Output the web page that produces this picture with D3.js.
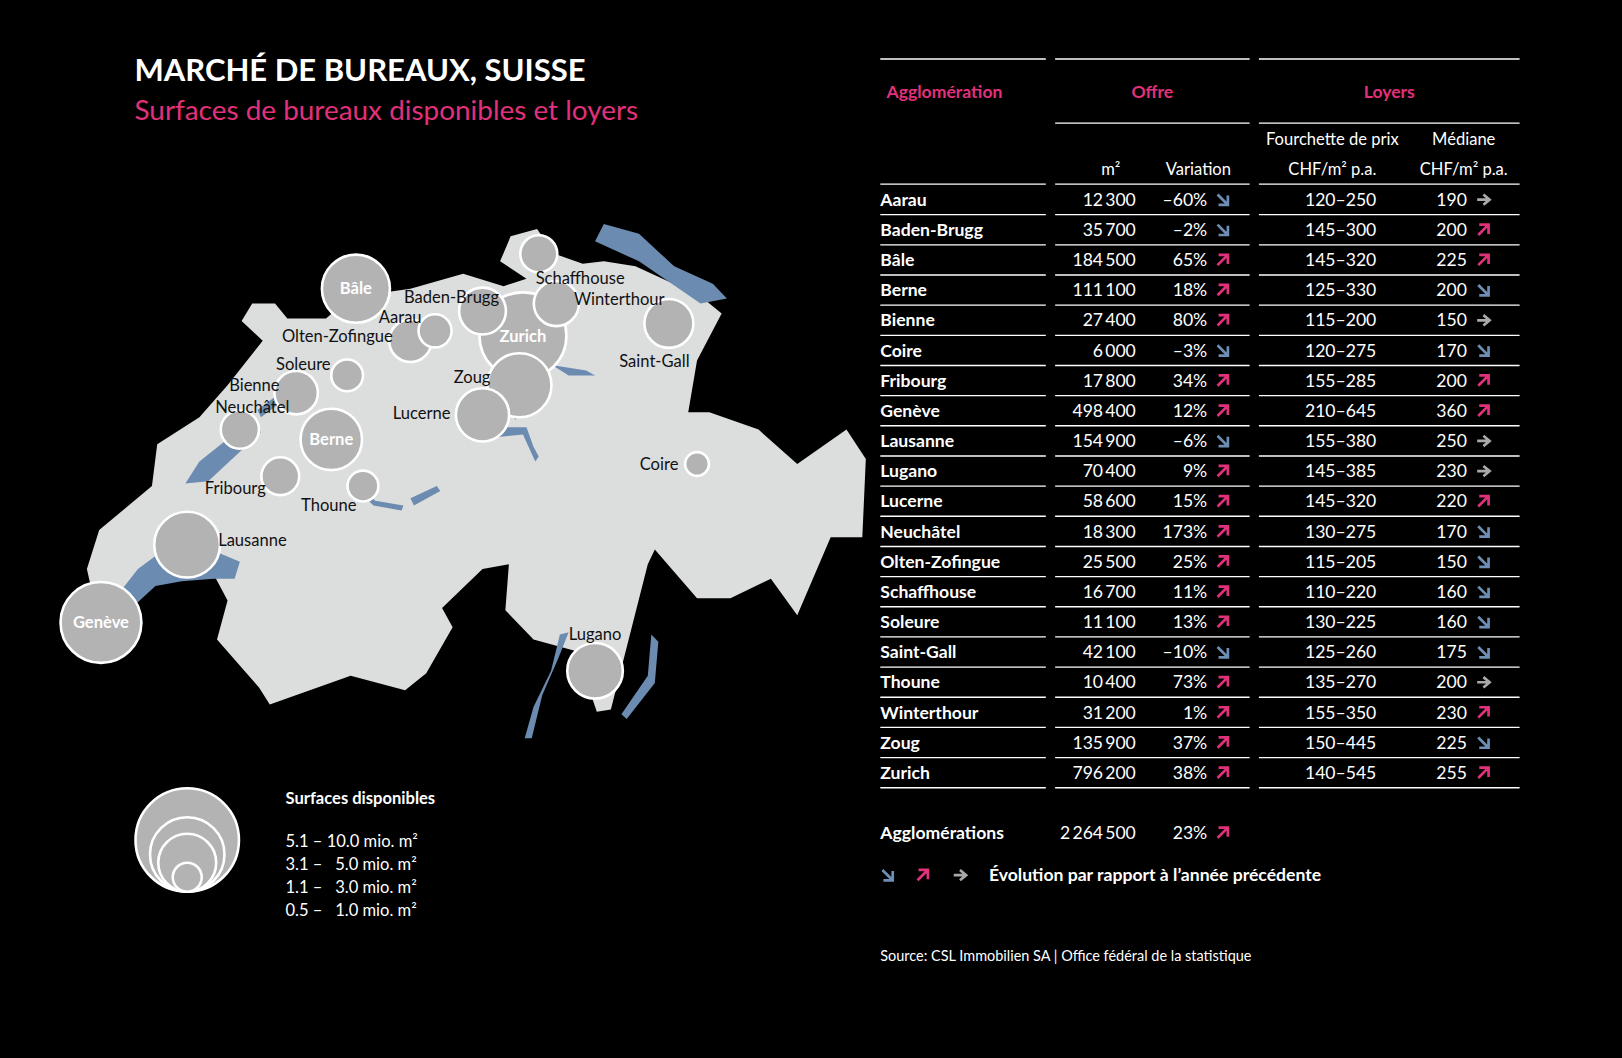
<!DOCTYPE html>
<html><head><meta charset="utf-8">
<script src="https://cdn.jsdelivr.net/npm/d3@7/dist/d3.min.js"></script>
<style>body{margin:0;background:#000}svg{display:block}text{font-family:Lato,"Open Sans",sans-serif}</style>
</head><body><svg id="c" width="1622" height="1058"></svg>
<script>
// ---------- DATA ----------
const cities = ["Aarau","Baden-Brugg","Bâle","Berne","Bienne","Coire","Fribourg","Genève","Lausanne","Lugano","Lucerne","Neuchâtel","Olten-Zofingue","Schaffhouse","Soleure","Saint-Gall","Thoune","Winterthour","Zoug","Zurich"];
const offre = [12300,35700,184500,111100,27400,6000,17800,498400,154900,70400,58600,18300,25500,16700,11100,42100,10400,31200,135900,796200];
const variation = [-60,-2,65,18,80,-3,34,12,-6,9,15,173,25,11,13,-10,73,1,37,38];
const rangeLow = [120,145,145,125,115,120,155,210,155,145,145,130,115,110,130,125,135,155,150,140];
const rangeHigh = [250,300,320,330,200,275,285,645,380,385,320,275,205,220,225,260,270,350,445,545];
const median = [190,200,225,200,150,170,200,360,250,230,220,170,150,160,160,175,200,230,225,255];
const medianTrend = ["flat","up","up","down","flat","down","up","up","flat","flat","up","down","down","down","down","down","flat","up","down","up"];
const totalOffre = 2264500, totalVar = 23;
const lon = [8.04,8.31,7.59,7.45,7.25,9.53,7.16,6.14,6.63,8.95,8.31,6.93,7.90,8.63,7.54,9.37,7.63,8.73,8.52,8.54];
const lat = [47.39,47.47,47.56,46.95,47.14,46.85,46.80,46.20,46.52,46.00,47.05,46.99,47.35,47.70,47.21,47.42,46.76,47.50,47.17,47.37];
const legendItems = ["5.1 – 10.0 mio. m²","3.1 –   5.0 mio. m²","1.1 –   3.0 mio. m²","0.5 –   1.0 mio. m²"];
// map geometry (lon/lat)
const border = [[5.96,46.14],[5.97,46.21],[6.11,46.26],[6.06,46.42],[6.13,46.58],[6.43,46.76],[6.46,46.93],[6.70,47.04],[6.86,47.17],[7.06,47.35],[6.94,47.43],[7.00,47.50],[7.13,47.50],[7.20,47.44],[7.42,47.44],[7.52,47.50],[7.59,47.58],[7.70,47.54],[7.90,47.56],[8.20,47.62],[8.43,47.57],[8.56,47.60],[8.41,47.67],[8.47,47.77],[8.62,47.80],[8.72,47.70],[8.88,47.66],[9.00,47.67],[9.18,47.65],[9.55,47.53],[9.67,47.46],[9.53,47.27],[9.48,47.06],[9.60,47.06],[9.88,46.99],[10.10,46.85],[10.38,46.99],[10.49,46.87],[10.47,46.55],[10.29,46.55],[10.10,46.23],[9.95,46.38],[9.72,46.30],[9.53,46.30],[9.29,46.50],[9.25,46.44],[9.04,45.84],[8.96,45.83],[8.90,45.96],[8.79,45.99],[8.85,46.08],[8.60,46.13],[8.44,46.25],[8.46,46.44],[8.31,46.42],[8.08,46.26],[8.14,46.18],[7.99,45.99],[7.87,45.92],[7.56,45.98],[7.10,45.86],[7.04,45.93],[6.80,46.13],[6.86,46.29],[6.78,46.40],[6.52,46.45],[6.24,46.31],[6.31,46.25],[6.10,46.14],[5.96,46.14]];
const lakes = [
 [[6.15,46.21],[6.22,46.30],[6.35,46.42],[6.50,46.50],[6.70,46.52],[6.93,46.45],[6.90,46.38],[6.78,46.38],[6.60,46.37],[6.45,46.35],[6.30,46.25],[6.18,46.20]],
 [[6.62,46.77],[6.75,46.78],[7.05,46.98],[6.98,47.02],[6.70,46.86]],
 [[7.05,47.04],[7.22,47.13],[7.18,47.15],[7.03,47.07]],
 [[8.95,47.75],[9.20,47.67],[9.55,47.50],[9.70,47.52],[9.62,47.58],[9.40,47.65],[9.20,47.78],[9.00,47.82]],
 [[8.54,47.36],[8.60,47.30],[8.80,47.21],[8.95,47.21],[8.90,47.23],[8.72,47.25],[8.57,47.34]],
 [[8.48,47.17],[8.52,47.15],[8.50,47.03],[8.47,47.05]],
 [[8.31,47.05],[8.42,47.00],[8.56,47.00],[8.60,46.92],[8.63,46.88],[8.61,46.86],[8.54,46.97],[8.40,46.96],[8.30,47.02]],
 [[7.63,46.75],[7.70,46.70],[7.86,46.68],[7.85,46.66],[7.69,46.68],[7.62,46.73]],
 [[7.90,46.71],[8.05,46.76],[8.07,46.74],[7.92,46.68]],
 [[8.75,46.15],[8.70,46.00],[8.60,45.85],[8.55,45.72],[8.59,45.72],[8.65,45.90],[8.74,46.05],[8.80,46.16]],
 [[8.85,46.00],[8.97,46.00],[9.10,46.03],[9.06,45.97],[8.93,45.96],[8.84,45.93]],
 [[9.27,46.15],[9.25,45.98],[9.10,45.82],[9.13,45.80],[9.29,45.95],[9.31,46.12]]
];
// label placement (style)
const labelStyle = {"Bâle":[0,0,"middle",1],"Zurich":[0,0,"middle",1],"Berne":[0,0,"middle",1],"Genève":[0,0,"middle",1],
 "Schaffhouse":[-3,24,"start"],"Winterthour":[17,-4,"start"],"Baden-Brugg":[16,-13,"end"],"Aarau":[-13,-13,"end"],
 "Olten-Zofingue":[-17,-4,"end"],"Soleure":[-16,-11,"end"],"Bienne":[-16,-7,"end"],"Neuchâtel":[12,-22,"middle"],
 "Fribourg":[-14,12,"end"],"Thoune":[-33,19,"middle"],"Lausanne":[30,-4,"start"],"Lucerne":[-31,-2,"end"],
 "Zoug":[-28,-8,"end"],"Saint-Gall":[-14,37,"middle"],"Coire":[-18,0,"end"],"Lugano":[0,-35,"middle"]};

// ---------- DRAW ----------
const PINK="#e0317a", BLUE="#6e8fb5", GRAY="#a9a9a9", LAND="#dcdddd", BUB="#b3b3b4", LAKE="#6c8bb0";
const svg=d3.select("#c");
svg.append("rect").attr("width",1622).attr("height",1058).attr("fill","#000");
const g=svg.append("g").attr("transform","scale("+(1622/1568)+")");
const nf=v=>d3.format(",")(v).replace(/,/g,"\u2009");

g.append("text").attr("x",130).attr("y",78).attr("fill","#fff").attr("font-size",30).attr("font-weight",700).text("MARCHÉ DE BUREAUX, SUISSE");
g.append("text").attr("x",130).attr("y",116).attr("fill",PINK).attr("font-size",27).text("Surfaces de bureaux disponibles et loyers");

// map
const feature={type:"Feature",geometry:{type:"Polygon",coordinates:[border]}};
const merc=d3.geoMercator().fitExtent([[62,232],[832,738]],feature);
const proj=d=>{const p=merc(d);return [p[0]+5,p[1]*0.954-8];};
const line=d3.line().x(d=>proj(d)[0]).y(d=>proj(d)[1]).curve(d3.curveLinearClosed);
g.append("path").attr("d",line(border)).attr("fill",LAND);
g.selectAll(".lake").data(lakes).join("path").attr("d",d=>line(d)).attr("fill",LAKE);
const r=d3.scaleLog().domain([6000,796200]).range([11.5,42]);
const idx=d3.range(cities.length).sort((a,b)=>offre[b]-offre[a]);
const mg=g.append("g");
idx.forEach(i=>{
  const [x,y]=proj([lon[i],lat[i]]);
  mg.append("circle").attr("cx",x).attr("cy",y).attr("r",r(offre[i])).attr("fill",BUB).attr("stroke","#fff").attr("stroke-width",2.5);
});
idx.forEach(i=>{
  const [x,y]=proj([lon[i],lat[i]]); const s=labelStyle[cities[i]];
  mg.append("text").attr("x",x+s[0]).attr("y",y+s[1]).attr("dy","0.35em").attr("text-anchor",s[2])
   .attr("fill",s[3]?"#fff":"#111").attr("font-weight",s[3]?700:400).attr("font-size",16).text(cities[i]);
});

// legend
const lr=[50,36,28,14];
lr.forEach(rr=>g.append("circle").attr("cx",181).attr("cy",862-rr).attr("r",rr).attr("fill",BUB).attr("stroke","#fff").attr("stroke-width",2.5));
g.append("text").attr("x",276).attr("y",777).attr("fill","#fff").attr("font-size",16).attr("font-weight",700).text("Surfaces disponibles");
legendItems.forEach((t,k)=>g.append("text").attr("x",276).attr("y",819+k*22.3).attr("fill","#fff").attr("font-size",16).attr("xml:space","preserve").text(t));

// arrows
function arrow(sel,x,y,type){
  const col=type==="up"?PINK:type==="down"?BLUE:GRAY;
  const a=sel.append("g").attr("transform",`translate(${x},${y})`);
  if(type==="flat"){
    a.append("path").attr("d","M-6,0H5M0,-5L6,0L0,5").attr("stroke",col).attr("stroke-width",2.6).attr("fill","none");
  } else {
    const s=type==="up"?-1:1;
    a.append("path").attr("d",`M-5,${-5*s}L4,${4*s}M-4,${5*s}H5V${-4*s}`).attr("stroke",col).attr("stroke-width",2.6).attr("fill","none");
  }
}
// table
const T=g.append("g");
const groups=[[851,1011],[1020,1208],[1217,1469]];
const hl=(x1,x2,y)=>T.append("line").attr("x1",x1).attr("x2",x2).attr("y1",y).attr("y2",y).attr("stroke","#fff").attr("stroke-width",1.3);
groups.forEach(gg=>hl(gg[0],gg[1],57));
[["Agglomération",857,"start"],["Offre",1114,"middle"],["Loyers",1343,"middle"]].forEach(h=>T.append("text").attr("x",h[1]).attr("y",95).attr("text-anchor",h[2]).attr("fill",PINK).attr("font-weight",700).attr("font-size",17).text(h[0]));
hl(1020,1208,119);hl(1217,1469,119);
const sub=(t,x,y,an)=>T.append("text").attr("x",x).attr("y",y).attr("text-anchor",an).attr("fill","#fff").attr("font-size",16).text(t);
sub("Fourchette de prix",1288,140,"middle");sub("Médiane",1415,140,"middle");
sub("m²",1083,169,"end");sub("Variation",1190,169,"end");sub("CHF/m² p.a.",1288,169,"middle");sub("CHF/m² p.a.",1415,169,"middle");
groups.forEach(gg=>hl(gg[0],gg[1],178));
const y0=193, dy=29.16;
cities.forEach((c,i)=>{
  const y=y0+i*dy;
  const tt=(t,x,an,b)=>T.append("text").attr("x",x).attr("y",y).attr("dy","0.35em").attr("text-anchor",an).attr("fill","#fff").attr("font-size",17).attr("font-weight",b?700:400).text(t);
  tt(c,851,"start",1);
  tt(nf(offre[i]),1098,"end");
  tt((variation[i]<0?"–":"")+Math.abs(variation[i])+"%",1167,"end");
  arrow(T,1182,y,variation[i]<0?"down":"up");
  tt(rangeLow[i]+"–"+rangeHigh[i],1296,"middle");
  tt(median[i],1418,"end");
  arrow(T,1434,y,medianTrend[i]);
  groups.forEach(gg=>hl(gg[0],gg[1],y+14.5));
});
const yt=805;
const tt2=(t,x,an,b)=>T.append("text").attr("x",x).attr("y",yt).attr("dy","0.35em").attr("text-anchor",an).attr("fill","#fff").attr("font-size",17).attr("font-weight",b?700:400).text(t);
tt2("Agglomérations",851,"start",1);tt2(nf(totalOffre),1098,"end");tt2(totalVar+"%",1167,"end");arrow(T,1182,yt,"up");
arrow(T,858,846,"down");arrow(T,892,846,"up");arrow(T,928,846,"flat");
T.append("text").attr("x",956).attr("y",846).attr("dy","0.35em").attr("fill","#fff").attr("font-size",17).attr("font-weight",700).text("Évolution par rapport à l’année précédente");
T.append("text").attr("x",851).attr("y",929).attr("fill","#fff").attr("font-size",14).text("Source: CSL Immobilien SA | Office fédéral de la statistique");
</script></body></html>
